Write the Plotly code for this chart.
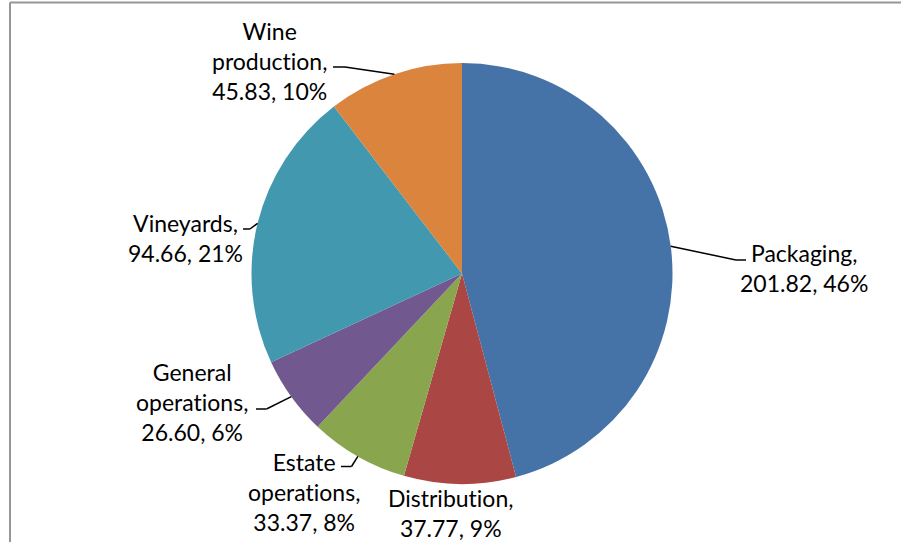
import math
import plotly.graph_objects as go

categories = ["Packaging", "Distribution", "Estate operations", "General operations", "Vineyards", "Wine production"]
values = [201.82, 37.77, 33.37, 26.60, 94.66, 45.83]
percents = ["46%", "9%", "8%", "6%", "21%", "10%"]
label_lines = [
    ["Packaging,"],
    ["Distribution,"],
    ["Estate", "operations,"],
    ["General", "operations,"],
    ["Vineyards,"],
    ["Wine", "production,"],
]
colors = ["#4572A7", "#AA4643", "#89A54E", "#71588F", "#4198AF", "#DB843D"]

W, H = 901, 542
CX, CY, R = 462, 273.5, 210.5

# label block centres (pixels) and leader-line elbows (pixels)
label_pos = [(804, 267.5), (450, 513), (304, 492), (192, 402), (185, 238), (269, 61)]
elbows = [
    [(736, 260), (746, 260)],
    None,
    [(351.5, 466.5), (341, 466.5)],
    [(266.5, 409), (256, 409)],
    [(250, 229), (243, 229)],
    [(345, 67), (333, 67)],
]

def px(x):
    return x / W

def py(y):
    return 1 - y / H

def no_lig(s):
    # avoid the "ti" ligature of the fallback font
    return s.replace("ti", "t\u200ci")

fig = go.Figure(go.Pie(
    labels=categories,
    values=values,
    sort=False,
    direction="clockwise",
    rotation=0,
    marker=dict(colors=colors, line=dict(width=0)),
    textinfo="none",
    hoverinfo="label+value+percent",
    domain=dict(x=[px(CX - R), px(CX + R)], y=[py(CY + R), py(CY - R)]),
    showlegend=False,
))

total = sum(values)
cum = 0.0
annotations = []
shapes = []
for i, v in enumerate(values):
    mid = (cum + v / 2) / total * 2 * math.pi
    cum += v
    ex = CX + R * math.sin(mid)
    ey = CY - R * math.cos(mid)
    text = "<br>".join([no_lig(t) for t in label_lines[i]] + [f"{v:.2f}, {percents[i]}"])
    lx, ly = label_pos[i]
    annotations.append(dict(
        x=px(lx), y=py(ly), xref="paper", yref="paper",
        text=text, showarrow=False, xanchor="center", yanchor="middle",
        align="center", font=dict(family="Lato", size=23, color="#000000"),
    ))
    if elbows[i]:
        pts = [(ex, ey)] + elbows[i]
        for (x0, y0), (x1, y1) in zip(pts[:-1], pts[1:]):
            shapes.append(dict(type="line", xref="paper", yref="paper",
                               x0=px(x0), y0=py(y0), x1=px(x1), y1=py(y1),
                               line=dict(color="#000000", width=1.5)))

# chart frame
shapes.append(dict(type="line", xref="paper", yref="paper", x0=px(10), y0=py(2.5), x1=1, y1=py(2.5),
                   line=dict(color="#969696", width=2)))
shapes.append(dict(type="line", xref="paper", yref="paper", x0=px(10), y0=py(2.5), x1=px(10), y1=0,
                   line=dict(color="#969696", width=2)))

fig.update_layout(
    width=W, height=H,
    margin=dict(l=0, r=0, t=0, b=0),
    paper_bgcolor="#FFFFFF",
    plot_bgcolor="#FFFFFF",
    annotations=annotations,
    shapes=shapes,
)

fig.write_html("out.html")
